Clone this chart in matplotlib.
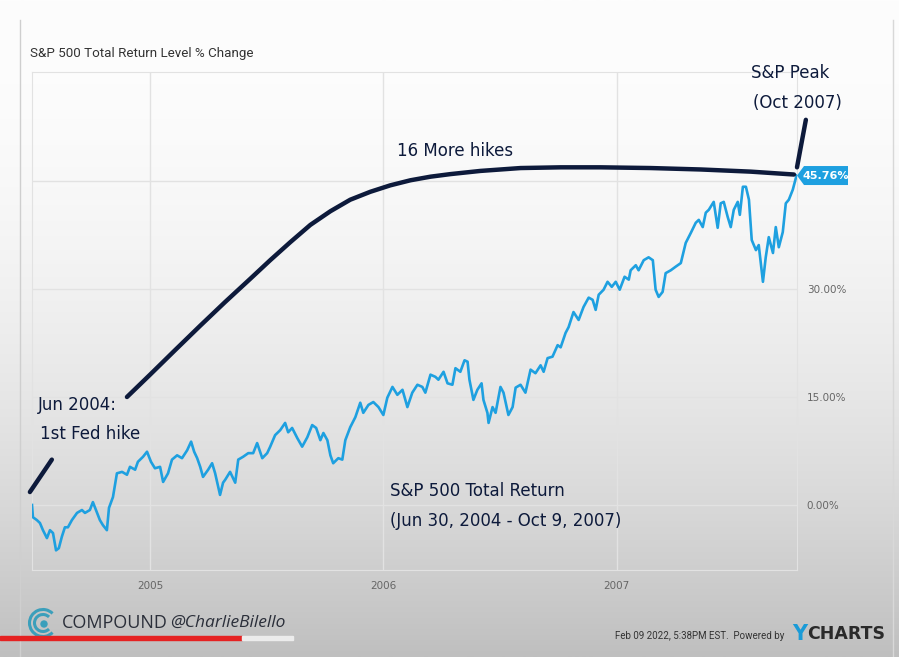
# S&P 500 total return, first Fed hike (Jun 2004) to the Oct 2007 peak

import numpy as np
import matplotlib.pyplot as plt
from matplotlib.patches import Polygon, Arc, Circle, Rectangle
from matplotlib.transforms import ScaledTranslation

# decimal years and % change
years = [2004.494, 2004.498, 2004.515, 2004.528, 2004.541, 2004.558, 2004.571, 2004.584,
         2004.597, 2004.609, 2004.622, 2004.635, 2004.648, 2004.665, 2004.687, 2004.708,
         2004.721, 2004.742, 2004.755, 2004.773, 2004.785, 2004.798, 2004.815, 2004.824,
         2004.841, 2004.858, 2004.880, 2004.901, 2004.914, 2004.936, 2004.948, 2004.970,
         2004.987, 2005.004, 2005.021, 2005.043, 2005.056, 2005.077, 2005.094, 2005.116,
         2005.137, 2005.159, 2005.176, 2005.189, 2005.202, 2005.215, 2005.227, 2005.249,
         2005.266, 2005.279, 2005.300, 2005.313, 2005.322, 2005.343, 2005.365, 2005.378,
         2005.399, 2005.421, 2005.442, 2005.459, 2005.481, 2005.502, 2005.515, 2005.536,
         2005.558, 2005.579, 2005.592, 2005.609, 2005.631, 2005.652, 2005.674, 2005.695,
         2005.712, 2005.730, 2005.743, 2005.760, 2005.773, 2005.785, 2005.807, 2005.824,
         2005.837, 2005.858, 2005.880, 2005.901, 2005.914, 2005.936, 2005.957, 2005.979,
         2006.000, 2006.017, 2006.039, 2006.060, 2006.082, 2006.103, 2006.124, 2006.146,
         2006.167, 2006.180, 2006.202, 2006.223, 2006.236, 2006.258, 2006.275, 2006.296,
         2006.309, 2006.330, 2006.348, 2006.361, 2006.369, 2006.386, 2006.403, 2006.421,
         2006.429, 2006.446, 2006.451, 2006.468, 2006.481, 2006.502, 2006.515, 2006.536,
         2006.554, 2006.567, 2006.588, 2006.609, 2006.631, 2006.652, 2006.674, 2006.687,
         2006.704, 2006.725, 2006.747, 2006.760, 2006.781, 2006.794, 2006.815, 2006.837,
         2006.858, 2006.880, 2006.897, 2006.910, 2006.923, 2006.944, 2006.961, 2006.979,
         2006.996, 2007.013, 2007.034, 2007.052, 2007.060, 2007.082, 2007.094, 2007.116,
         2007.137, 2007.155, 2007.167, 2007.180, 2007.197, 2007.210, 2007.232, 2007.253,
         2007.275, 2007.296, 2007.318, 2007.339, 2007.352, 2007.369, 2007.382, 2007.395,
         2007.416, 2007.433, 2007.446, 2007.459, 2007.476, 2007.489, 2007.502, 2007.519,
         2007.528, 2007.541, 2007.554, 2007.567, 2007.579, 2007.597, 2007.609, 2007.627,
         2007.639, 2007.652, 2007.670, 2007.682, 2007.695, 2007.712, 2007.725, 2007.738,
         2007.755, 2007.768, 2007.773]
pct = [0.0, -1.7, -2.1, -2.5, -3.5, -4.6, -3.5, -3.9,
       -6.3, -6.0, -4.4, -3.1, -3.1, -2.1, -1.1, -0.7,
       -1.1, -0.7, 0.4, -1.1, -2.1, -2.8, -3.5, -0.4,
       1.1, 4.4, 4.6, 4.2, 5.3, 4.9, 6.0, 6.7,
       7.4, 6.0, 5.1, 5.3, 3.2, 4.4, 6.3, 6.9,
       6.5, 7.6, 8.8, 7.4, 6.5, 5.3, 3.9, 4.9,
       5.8, 4.4, 1.4, 3.1, 3.5, 4.6, 3.1, 6.3,
       6.7, 7.2, 7.2, 8.6, 6.5, 7.2, 8.1, 9.7,
       10.4, 11.4, 10.1, 10.7, 9.3, 8.1, 9.4, 11.1,
       10.7, 9.0, 10.0, 9.0, 6.9, 5.8, 6.5, 6.3,
       9.0, 10.8, 12.2, 14.2, 12.8, 13.9, 14.3, 13.6,
       12.5, 14.9, 16.4, 15.3, 16.0, 13.6, 15.6, 16.7,
       16.4, 15.6, 18.1, 17.8, 17.4, 18.5, 16.9, 16.7,
       19.0, 18.5, 20.1, 19.9, 17.4, 14.6, 16.0, 16.9,
       14.6, 12.8, 11.4, 13.6, 12.8, 16.4, 15.6, 12.5,
       13.6, 16.3, 16.7, 15.6, 18.8, 18.3, 19.4, 18.5,
       20.4, 20.6, 22.2, 21.9, 23.9, 24.7, 26.8, 25.7,
       27.5, 28.8, 28.5, 27.1, 29.2, 29.9, 31.0, 30.3,
       31.0, 29.9, 31.7, 31.3, 32.6, 33.3, 32.6, 34.0,
       34.4, 34.0, 29.9, 28.9, 29.6, 32.2, 32.6, 33.1,
       33.6, 36.4, 37.8, 39.2, 39.6, 38.6, 40.6, 41.0,
       42.1, 38.5, 41.9, 42.1, 40.0, 38.6, 41.0, 42.1,
       40.3, 44.2, 44.2, 42.4, 36.8, 35.4, 36.1, 31.0,
       34.4, 37.2, 35.0, 38.6, 35.8, 37.9, 41.9, 42.4,
       43.8, 45.4, 45.76]

# hand drawn "16 more hikes" curve
hike_x = [2004.901, 2005.000, 2005.107, 2005.215, 2005.322, 2005.429, 2005.515, 2005.601,
          2005.687, 2005.773, 2005.858, 2005.944, 2006.030, 2006.116, 2006.202, 2006.288,
          2006.416, 2006.588, 2006.760, 2006.931, 2007.146, 2007.361, 2007.575, 2007.760]
hike_y = [15.0, 18.1, 21.5, 24.9, 28.2, 31.4, 34.0, 36.5,
          38.9, 40.8, 42.4, 43.5, 44.4, 45.1, 45.6, 45.96,
          46.4, 46.8, 46.9, 46.9, 46.8, 46.6, 46.3, 45.9]

tick_years = [2005, 2006, 2007]
tick_pct = [0, 15, 30, 45]
last_val = 45.76

ink = "#0d1a3b"
blue = "#1ea0e0"

fig = plt.figure(figsize=(8.99, 6.57), dpi=100)

# screenshot-like background: white fading to grey at the bottom
bg = fig.add_axes([0, 0, 1, 1], zorder=0)
t = np.linspace(0, 1, 300)
shade = (253 - 62 * t ** 2) / 255
grad = np.repeat(shade[:, None, None], 3, axis=2)
bg.imshow(grad, aspect="auto", extent=[0, 1, 0, 1])
bg.set_xlim(0, 1)
bg.set_ylim(0, 1)
bg.axis("off")
bg.plot([20 / 899, 20 / 899], [0, 1 - 20 / 657], color="#cfcfcf", lw=1)
bg.plot([893 / 899, 893 / 899], [0, 1 - 20 / 657], color="#d8d8d8", lw=1)

ax = fig.add_axes([32 / 899, 87 / 657, 765 / 899, 498 / 657], zorder=1)
ax.patch.set_alpha(0)
ax.plot(years, pct, color=blue, lw=1.9, zorder=3)
ax.set_xlim(years[0], years[-1])
ax.set_ylim(-9.03, 60.14)

ax.set_xticks(tick_years)
ax.set_xticklabels([str(y) for y in tick_years])
ax.set_yticks(tick_pct)
ax.set_yticklabels(["%.2f%%" % v if v < 45 else "" for v in tick_pct])
ax.yaxis.tick_right()
ax.tick_params(length=0, labelsize=7.5, labelcolor="#666666")
ax.tick_params(axis="y", pad=7)
ax.tick_params(axis="x", pad=8)
ax.grid(True, color="#e2e2e2", lw=1)
for s in ax.spines.values():
    s.set_color("#e2e2e2")

# last value badge
anchor = ScaledTranslation(years[-1], last_val, ax.transData)
tr = fig.dpi_scale_trans + anchor
badge = Polygon([(0.0, 0.0), (0.07, 0.095), (0.51, 0.095), (0.51, -0.095), (0.07, -0.095)],
                closed=True, transform=tr, facecolor=blue, edgecolor="none",
                clip_on=False, zorder=5)
ax.add_patch(badge)
ax.text(0.29, 0.0, "%.2f%%" % last_val, transform=tr, color="white", fontsize=8,
        fontweight="bold", ha="center", va="center", zorder=6)

# hand drawn annotations
ax.plot(hike_x, hike_y, color=ink, lw=3.2, solid_capstyle="round", solid_joinstyle="round",
        zorder=4, clip_on=False)
ax.plot([2004.485, 2004.579], [1.8, 6.3], color=ink, lw=3.2, solid_capstyle="round",
        clip_on=False, zorder=4)
ax.plot([2007.773, 2007.811], [46.9, 53.5], color=ink, lw=3.2, solid_capstyle="round",
        clip_on=False, zorder=4)

hand = dict(color=ink, fontsize=12, family="DejaVu Sans", zorder=6)
fig.text(790 / 899, 1 - 73 / 657, "S&P Peak", ha="center", va="center", **hand)
fig.text(797 / 899, 1 - 103 / 657, "(Oct 2007)", ha="center", va="center", **hand)
fig.text(455 / 899, 1 - 151 / 657, "16 More hikes", ha="center", va="center", **hand)
fig.text(38 / 899, 1 - 405 / 657, "Jun 2004:", ha="left", va="center", **hand)
fig.text(40 / 899, 1 - 434 / 657, "1st Fed hike", ha="left", va="center", **hand)
fig.text(390 / 899, 1 - 491 / 657, "S&P 500 Total Return", ha="left", va="center", **hand)
fig.text(390 / 899, 1 - 521 / 657, "(Jun 30, 2004 - Oct 9, 2007)", ha="left", va="center",
         **hand)

fig.text(30 / 899, 1 - 53 / 657, "S&P 500 Total Return Level % Change", fontsize=9.6,
         color="#333333", family="Roboto", ha="left", va="center")

# footer
logo_tr = fig.dpi_scale_trans
cx, cy = 0.43, (657 - 623) / 100
fig.patches.append(Arc((cx, cy), 0.27, 0.27, theta1=45, theta2=315, lw=2.2,
                       color="#3b9fbb", transform=logo_tr))
fig.patches.append(Arc((cx, cy), 0.17, 0.17, theta1=45, theta2=315, lw=2.2,
                       color="#3b9fbb", transform=logo_tr))
fig.patches.append(Circle((cx + 0.01, cy - 0.01), 0.03, color="#3b9fbb", transform=logo_tr))
fig.text(62 / 899, 1 - 623 / 657, "COMPOUND", fontsize=13, color="#2b2f3a",
         family="Open Sans", ha="left", va="center")
fig.text(170 / 899, 1 - 623 / 657, "@CharlieBilello", fontsize=12.5, color="#2b2f3a",
         family="Open Sans", style="italic", ha="left", va="center")
fig.text(784 / 899, 1 - 636 / 657, "Feb 09 2022, 5:38PM EST.  Powered by", fontsize=7,
         color="#333333", family="Roboto", ha="right", va="center")
fig.text(807 / 899, 1 - 634 / 657, "Y", fontsize=15, color="#1a9bd7", fontweight="bold",
         family="DejaVu Sans", ha="right", va="center")
fig.text(885 / 899, 1 - 634 / 657, "CHARTS", fontsize=12.5, color="#2a2a2a", fontweight="bold",
         family="DejaVu Sans", ha="right", va="center")

# video progress bar
fig.patches.append(Rectangle((0, 1 - 640 / 657), 242 / 899, 4 / 657, color="#e52222",
                             transform=fig.transFigure))
fig.patches.append(Rectangle((242 / 899, 1 - 640 / 657), 51 / 899, 4 / 657, color="#ececec",
                             transform=fig.transFigure))

plt.savefig("out.png", dpi=100)
